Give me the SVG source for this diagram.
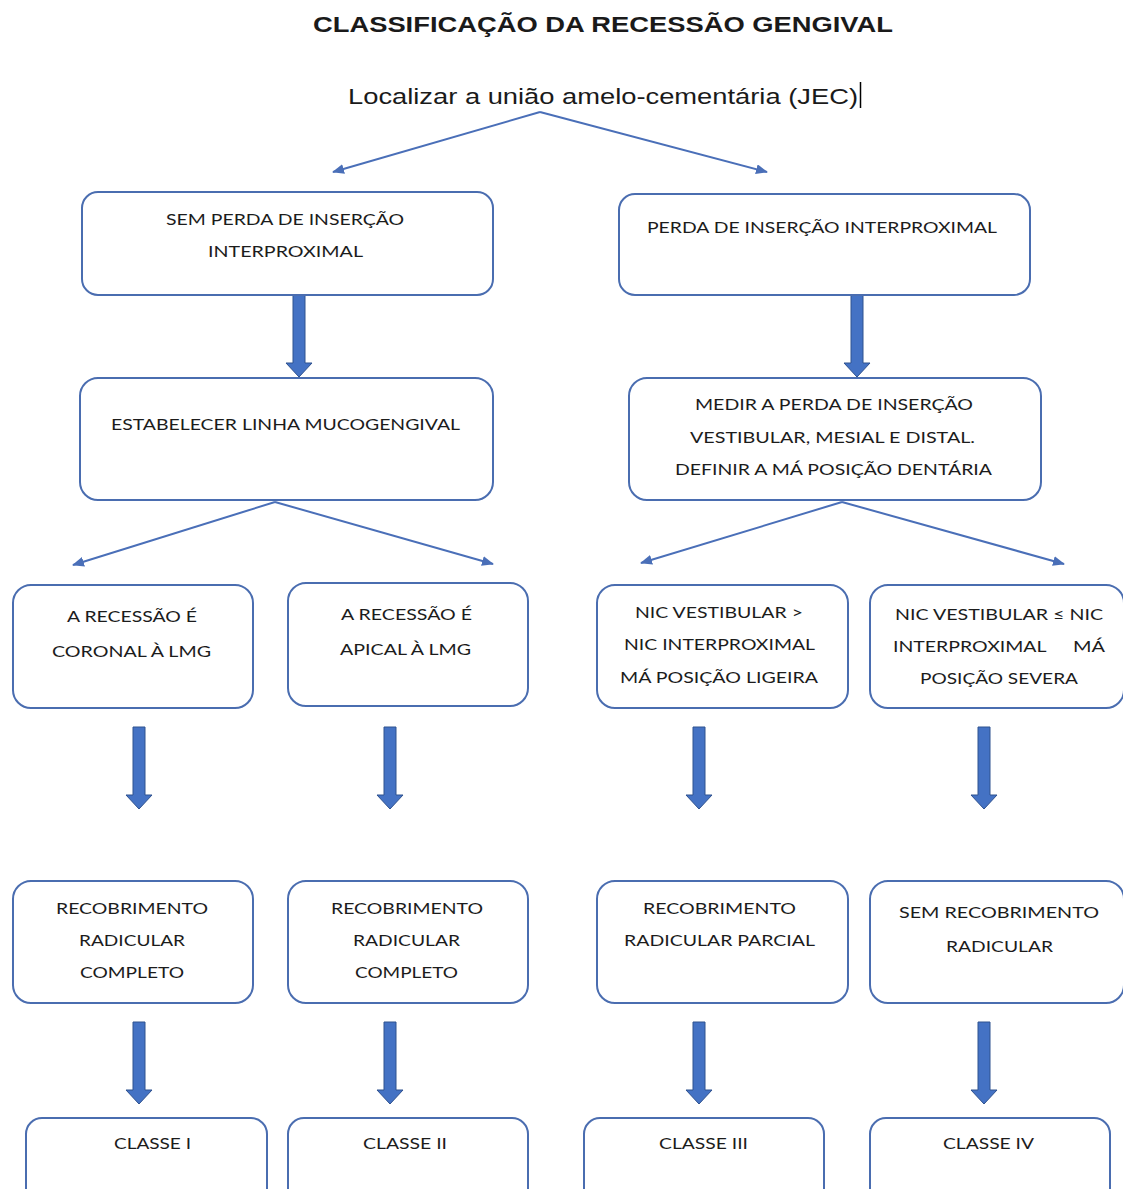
<svg xmlns="http://www.w3.org/2000/svg" width="1123" height="1189" viewBox="0 0 1123 1189">
<style>
.box{fill:#fff;stroke:#4a6db0;stroke-width:2}
.t{font-family:Lato,"Open Sans","Liberation Sans",sans-serif;font-size:16px;fill:#1c1c1c;text-anchor:start}
.thin{stroke:#4a6fb8;stroke-width:2;fill:none;marker-end:url(#ah)}
.blk{fill:#4472c4;stroke:#2f528f;stroke-width:1}
</style>
<defs>
<marker id="ah" viewBox="0 0 12 10" refX="11" refY="5" markerWidth="6" markerHeight="5" orient="auto" markerUnits="strokeWidth">
<path d="M0,0 L12,5 L0,10 Z" fill="#4a6fb8"/>
</marker>
<path id="down" d="M-6,0 H6 V68 H13 L0,82 L-13,68 H-6 Z"/>
</defs>
<rect width="1123" height="1189" fill="#fff"/>
<text x="313" y="32" textLength="580" lengthAdjust="spacingAndGlyphs" font-family="'Liberation Sans',Arial,sans-serif" font-weight="bold" font-size="22" fill="#1a1a1a">CLASSIFICAÇÃO DA RECESSÃO GENGIVAL</text>
<g id="start">
<text x="348" y="104" textLength="510" lengthAdjust="spacingAndGlyphs" font-family="'Liberation Sans',Arial,sans-serif" font-size="22" fill="#1a1a1a">Localizar a união amelo-cementária (JEC)</text>
<line x1="860.5" y1="82" x2="860.5" y2="108" stroke="#000" stroke-width="1.5"/>
</g>
<g id="connectors">
<path class="thin" d="M540,112 L333,172"/>
<path class="thin" d="M540,112 L767,172"/>
<path class="thin" d="M275,502 L73,565"/>
<path class="thin" d="M275,502 L493,564"/>
<path class="thin" d="M842,502 L641,563"/>
<path class="thin" d="M842,502 L1064,564"/>
<use href="#down" class="blk" transform="translate(299,295)"/>
<use href="#down" class="blk" transform="translate(857,295)"/>
<use href="#down" class="blk" transform="translate(139,727)"/>
<use href="#down" class="blk" transform="translate(390,727)"/>
<use href="#down" class="blk" transform="translate(699,727)"/>
<use href="#down" class="blk" transform="translate(984,727)"/>
<use href="#down" class="blk" transform="translate(139,1022)"/>
<use href="#down" class="blk" transform="translate(390,1022)"/>
<use href="#down" class="blk" transform="translate(699,1022)"/>
<use href="#down" class="blk" transform="translate(984,1022)"/>
</g>
<g id="semPerda">
<rect class="box" x="82" y="192" width="411" height="103" rx="16"/>
<text class="t" x="166" y="225" textLength="238" lengthAdjust="spacingAndGlyphs">SEM PERDA DE INSERÇÃO</text>
<text class="t" x="208" y="257" textLength="155" lengthAdjust="spacingAndGlyphs">INTERPROXIMAL</text>
</g>
<g id="perda">
<rect class="box" x="619" y="194" width="411" height="101" rx="16"/>
<text class="t" x="647" y="233" textLength="350" lengthAdjust="spacingAndGlyphs">PERDA DE INSERÇÃO INTERPROXIMAL</text>
</g>
<g id="estabelecer">
<rect class="box" x="80" y="378" width="413" height="122" rx="18"/>
<text class="t" x="111" y="430" textLength="349" lengthAdjust="spacingAndGlyphs">ESTABELECER LINHA MUCOGENGIVAL</text>
</g>
<g id="medir">
<rect class="box" x="629" y="378" width="412" height="122" rx="18"/>
<text class="t" x="695" y="410" textLength="278" lengthAdjust="spacingAndGlyphs">MEDIR A PERDA DE INSERÇÃO</text>
<text class="t" x="690" y="443" textLength="285" lengthAdjust="spacingAndGlyphs">VESTIBULAR, MESIAL E DISTAL.</text>
<text class="t" x="675" y="475" textLength="317" lengthAdjust="spacingAndGlyphs">DEFINIR A MÁ POSIÇÃO DENTÁRIA</text>
</g>
<g id="coronal">
<rect class="box" x="13" y="585" width="240" height="123" rx="18"/>
<text class="t" x="67" y="622" textLength="130" lengthAdjust="spacingAndGlyphs">A RECESSÃO É</text>
<text class="t" x="52" y="657" textLength="159" lengthAdjust="spacingAndGlyphs">CORONAL À LMG</text>
</g>
<g id="apical">
<rect class="box" x="288" y="583" width="240" height="123" rx="18"/>
<text class="t" x="341" y="620" textLength="131" lengthAdjust="spacingAndGlyphs">A RECESSÃO É</text>
<text class="t" x="340" y="655" textLength="131" lengthAdjust="spacingAndGlyphs">APICAL À LMG</text>
</g>
<g id="nicMaior">
<rect class="box" x="597" y="585" width="251" height="123" rx="18"/>
<text class="t" x="635" y="618" textLength="168" lengthAdjust="spacingAndGlyphs">NIC VESTIBULAR &gt;</text>
<text class="t" x="624" y="650" textLength="191" lengthAdjust="spacingAndGlyphs">NIC INTERPROXIMAL</text>
<text class="t" x="620" y="683" textLength="198" lengthAdjust="spacingAndGlyphs">MÁ POSIÇÃO LIGEIRA</text>
</g>
<g id="nicMenor">
<rect class="box" x="870" y="585" width="254" height="123" rx="18"/>
<text class="t" x="895" y="620" textLength="208" lengthAdjust="spacingAndGlyphs">NIC VESTIBULAR ≤ NIC</text>
<text class="t" y="652"><tspan x="893" textLength="153" lengthAdjust="spacingAndGlyphs">INTERPROXIMAL</tspan> <tspan x="1073" textLength="32" lengthAdjust="spacingAndGlyphs">MÁ</tspan></text>
<text class="t" x="920" y="684" textLength="158" lengthAdjust="spacingAndGlyphs">POSIÇÃO SEVERA</text>
</g>
<g id="completo1">
<rect class="box" x="13" y="881" width="240" height="122" rx="18"/>
<text class="t" x="56" y="914" textLength="152" lengthAdjust="spacingAndGlyphs">RECOBRIMENTO</text>
<text class="t" x="79" y="946" textLength="106" lengthAdjust="spacingAndGlyphs">RADICULAR</text>
<text class="t" x="80" y="978" textLength="104" lengthAdjust="spacingAndGlyphs">COMPLETO</text>
</g>
<g id="completo2">
<rect class="box" x="288" y="881" width="240" height="122" rx="18"/>
<text class="t" x="331" y="914" textLength="152" lengthAdjust="spacingAndGlyphs">RECOBRIMENTO</text>
<text class="t" x="353" y="946" textLength="107" lengthAdjust="spacingAndGlyphs">RADICULAR</text>
<text class="t" x="355" y="978" textLength="103" lengthAdjust="spacingAndGlyphs">COMPLETO</text>
</g>
<g id="parcial">
<rect class="box" x="597" y="881" width="251" height="122" rx="18"/>
<text class="t" x="643" y="914" textLength="153" lengthAdjust="spacingAndGlyphs">RECOBRIMENTO</text>
<text class="t" x="624" y="946" textLength="191" lengthAdjust="spacingAndGlyphs">RADICULAR PARCIAL</text>
</g>
<g id="semRecobrimento">
<rect class="box" x="870" y="881" width="254" height="122" rx="18"/>
<text class="t" x="899" y="918" textLength="200" lengthAdjust="spacingAndGlyphs">SEM RECOBRIMENTO</text>
<text class="t" x="946" y="952" textLength="107" lengthAdjust="spacingAndGlyphs">RADICULAR</text>
</g>
<g id="classe1">
<rect class="box" x="26" y="1118" width="241" height="90" rx="16"/>
<text class="t" x="114" y="1149" textLength="77" lengthAdjust="spacingAndGlyphs">CLASSE I</text>
</g>
<g id="classe2">
<rect class="box" x="288" y="1118" width="240" height="90" rx="16"/>
<text class="t" x="363" y="1149" textLength="84" lengthAdjust="spacingAndGlyphs">CLASSE II</text>
</g>
<g id="classe3">
<rect class="box" x="584" y="1118" width="240" height="90" rx="16"/>
<text class="t" x="659" y="1149" textLength="89" lengthAdjust="spacingAndGlyphs">CLASSE III</text>
</g>
<g id="classe4">
<rect class="box" x="870" y="1118" width="240" height="90" rx="16"/>
<text class="t" x="943" y="1149" textLength="91" lengthAdjust="spacingAndGlyphs">CLASSE IV</text>
</g>
</svg>
